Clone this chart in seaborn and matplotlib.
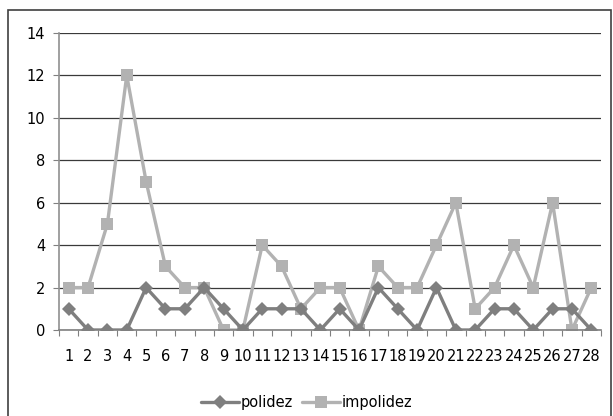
import matplotlib
matplotlib.use("Agg")
import matplotlib.pyplot as plt
import seaborn as sns
import pandas as pd
import numpy as np
from matplotlib.patches import Rectangle

categories = list(range(1, 29))
polidez = [1, 0, 0, 0, 2, 1, 1, 2, 1, 0, 1, 1, 1, 0, 1, 0, 2, 1, 0, 2, 0, 0, 1, 1, 0, 1, 1, 0]
impolidez = [2, 2, 5, 12, 7, 3, 2, 2, 0, 0, 4, 3, 1, 2, 2, 0, 3, 2, 2, 4, 6, 1, 2, 4, 2, 6, 0, 2]
y_ticks = [0, 2, 4, 6, 8, 10, 12, 14]

df = pd.DataFrame({
    "x": categories * 2,
    "y": polidez + impolidez,
    "serie": ["polidez"] * len(categories) + ["impolidez"] * len(categories),
})

sns.set_style("white")
plt.rcParams['font.family'] = ['DejaVu Sans']
plt.rcParams['text.color'] = 'black'
plt.rcParams['xtick.labelcolor'] = 'black'
plt.rcParams['ytick.labelcolor'] = 'black'

fig = plt.figure(figsize=(6.13, 4.16), dpi=100)
ax = fig.add_axes([59/613, 86/416, 542/613, 297/416])

palette = {"polidez": "#7f7f7f", "impolidez": "#b2b2b2"}
markers = {"polidez": "D", "impolidez": "s"}
sizes_ms = {"polidez": 7, "impolidez": 9}

for name in ["impolidez", "polidez"]:
    sub = df[df["serie"] == name]
    sns.lineplot(data=sub, x="x", y="y", ax=ax, color=palette[name], marker=markers[name],
                 markersize=sizes_ms[name], markeredgewidth=0, linewidth=2.4, label=name,
                 legend=False, zorder=3 if name == "polidez" else 2)

ax.set_xlim(0.5, 28.5)
ax.set_ylim(0, 14)
ax.set_yticks(y_ticks)
ax.set_yticklabels([str(v) for v in y_ticks])
ax.set_xticks(categories)
ax.set_xticklabels([str(c) for c in categories])
ax.set_xticks(np.arange(0.5, 29, 1), minor=True)
ax.tick_params(axis="x", which="major", length=0, pad=14, labelsize=10.5, labelcolor="black")
ax.tick_params(axis="x", which="minor", length=4, width=0.8, color="#808080", direction="out", bottom=True)
ax.tick_params(axis="y", which="major", length=4, width=0.8, color="#808080", direction="out", left=True,
               labelsize=10.5, pad=6, labelcolor="black")
ax.set_xlabel("")
ax.set_ylabel("")
ax.grid(axis="y", color="#3a3a3a", linewidth=0.9)
ax.set_axisbelow(True)
for s in ["top", "right"]:
    ax.spines[s].set_visible(False)
ax.spines["left"].set_color("#909090")
ax.spines["left"].set_linewidth(1.2)
ax.spines["bottom"].set_color("#808080")
ax.spines["bottom"].set_linewidth(1.2)

handles, labels = ax.get_legend_handles_labels()
order = [labels.index("polidez"), labels.index("impolidez")]
leg = fig.legend([handles[i] for i in order], [labels[i] for i in order],
                 loc="center", bbox_to_anchor=(0.5, 1 - 403/416), ncol=2, frameon=False,
                 fontsize=10.5, handlelength=2.6, columnspacing=0.6, handletextpad=0.15)
for t in leg.get_texts():
    t.set_color("black")

fig.patches.append(Rectangle((8/613, -0.01), 603/613, 1 - 10/416 + 0.01, transform=fig.transFigure,
                             fill=False, edgecolor="#404040", linewidth=1.2))

fig.savefig("out.png", dpi=100)
